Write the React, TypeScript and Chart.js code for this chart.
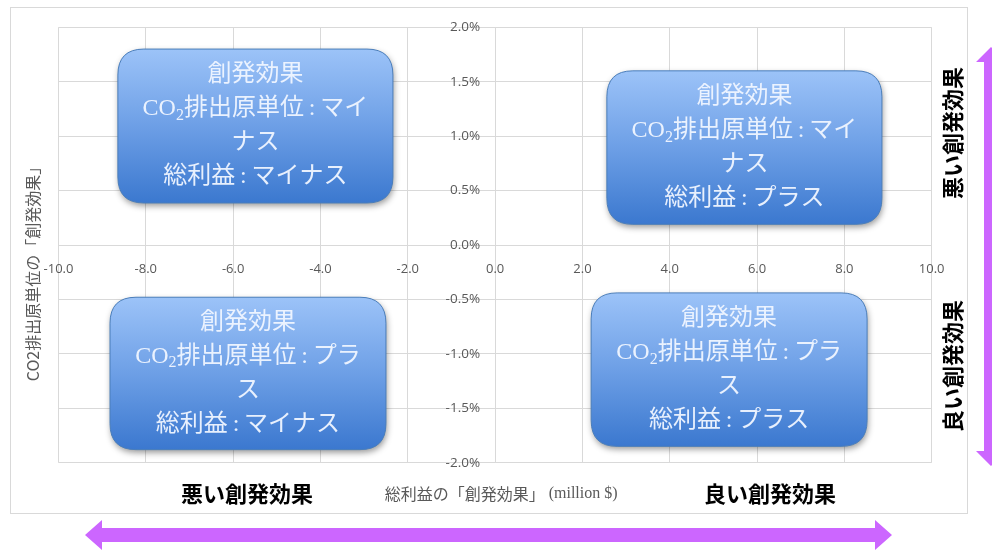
import React, { useEffect, useRef } from 'react';
import { Chart, registerables } from 'chart.js';

Chart.register(...registerables);

// ---- axis ranges / ticks ----
const X_MIN = -10;
const X_MAX = 10;
const X_STEP = 2;
const Y_MIN = -0.02;
const Y_MAX = 0.02;
const Y_STEP = 0.005;

// ---- texts ----
const xAxisTitleJa = '総利益の「創発効果」';
const xAxisTitleUnit = ' (million $)';
const yAxisTitle = 'CO2排出原単位の「創発効果」';
const bottomLabels = ['悪い創発効果', '良い創発効果'];
const sideLabels = ['悪い創発効果', '良い創発効果'];

const quadrantLines = [
  ['創発効果', 'CO₂排出原単位:マイ', 'ナス', '総利益:マイナス'],
  ['創発効果', 'CO₂排出原単位:マイ', 'ナス', '総利益:プラス'],
  ['創発効果', 'CO₂排出原単位:プラ', 'ス', '総利益:マイナス'],
  ['創発効果', 'CO₂排出原単位:プラ', 'ス', '総利益:プラス'],
];
// quadrant box extents in data units
const quadrantX0 = [-8.64, 2.56, -8.82, 2.2];
const quadrantX1 = [-2.34, 8.86, -2.5, 8.52];
const quadrantYTop = [0.018, 0.016, -0.0048, -0.0044];
const quadrantYBottom = [0.00386, 0.0019, -0.0188, -0.0185];

const GRID = '#d9d9d9';
const GRAY = '#595959';
const PURPLE = '#cc66ff';
const JA_SANS = '"Noto Sans CJK JP", "Noto Sans", sans-serif';
const BOX_FONT = '"Liberation Serif", "Noto Sans CJK JP", serif';
const TICK_FONT_FAMILY = '"Open Sans", "Liberation Sans", sans-serif';

const fmtX = (v: number) => Number(v).toFixed(1);
const fmtY = (v: number) => (Number(v) * 100).toFixed(1) + '%';

function roundRectPath(ctx: CanvasRenderingContext2D, x: number, y: number, w: number, h: number, r: number) {
  ctx.beginPath();
  ctx.moveTo(x + r, y);
  ctx.lineTo(x + w - r, y);
  ctx.quadraticCurveTo(x + w, y, x + w, y + r);
  ctx.lineTo(x + w, y + h - r);
  ctx.quadraticCurveTo(x + w, y + h, x + w - r, y + h);
  ctx.lineTo(x + r, y + h);
  ctx.quadraticCurveTo(x, y + h, x, y + h - r);
  ctx.lineTo(x, y + r);
  ctx.quadraticCurveTo(x, y, x + r, y);
  ctx.closePath();
}

function drawRichLine(ctx: CanvasRenderingContext2D, text: string, cx: number, cy: number, size: number) {
  const parts: { t: string; sub: boolean }[] = [];
  let buf = '';
  for (const ch of text) {
    if (ch === '₂') {
      if (buf) parts.push({ t: buf, sub: false });
      buf = '';
      parts.push({ t: '2', sub: true });
    } else if (ch === ':') {
      if (buf) parts.push({ t: buf, sub: false });
      buf = '';
      parts.push({ t: '\u2009:\u2009', sub: false });
    } else buf += ch;
  }
  if (buf) parts.push({ t: buf, sub: false });
  const fMain = `${size}px ${BOX_FONT}`;
  const fSub = `${Math.round(size * 0.68)}px ${BOX_FONT}`;
  let total = 0;
  const widths = parts.map((p) => {
    ctx.font = p.sub ? fSub : fMain;
    const w = ctx.measureText(p.t).width;
    total += w;
    return w;
  });
  let x = cx - total / 2;
  ctx.textAlign = 'left';
  ctx.textBaseline = 'middle';
  parts.forEach((p, i) => {
    ctx.font = p.sub ? fSub : fMain;
    ctx.fillText(p.t, x, p.sub ? cy + size * 0.28 : cy);
    x += widths[i];
  });
}

function hArrow(ctx: CanvasRenderingContext2D, x0: number, x1: number, y: number, shaft: number, head: number, headLen: number) {
  ctx.beginPath();
  ctx.moveTo(x0, y);
  ctx.lineTo(x0 + headLen, y - head);
  ctx.lineTo(x0 + headLen, y - shaft);
  ctx.lineTo(x1 - headLen, y - shaft);
  ctx.lineTo(x1 - headLen, y - head);
  ctx.lineTo(x1, y);
  ctx.lineTo(x1 - headLen, y + head);
  ctx.lineTo(x1 - headLen, y + shaft);
  ctx.lineTo(x0 + headLen, y + shaft);
  ctx.lineTo(x0 + headLen, y + head);
  ctx.closePath();
  ctx.fill();
}

function vArrow(ctx: CanvasRenderingContext2D, x: number, y0: number, y1: number, shaft: number, head: number, headLen: number) {
  ctx.beginPath();
  ctx.moveTo(x, y0);
  ctx.lineTo(x + head, y0 + headLen);
  ctx.lineTo(x + shaft, y0 + headLen);
  ctx.lineTo(x + shaft, y1 - headLen);
  ctx.lineTo(x + head, y1 - headLen);
  ctx.lineTo(x, y1);
  ctx.lineTo(x - head, y1 - headLen);
  ctx.lineTo(x - shaft, y1 - headLen);
  ctx.lineTo(x - shaft, y0 + headLen);
  ctx.lineTo(x - head, y0 + headLen);
  ctx.closePath();
  ctx.fill();
}

const decor = {
  id: 'decor',
  beforeDraw(chart: any) {
    const ctx: CanvasRenderingContext2D = chart.ctx;
    ctx.save();
    ctx.fillStyle = '#ffffff';
    ctx.fillRect(0, 0, chart.width, chart.height);
    ctx.strokeStyle = GRID;
    ctx.lineWidth = 1;
    ctx.strokeRect(10.5, 7.5, 957, 506);
    ctx.restore();
  },
  afterDraw(chart: any) {
    const ctx: CanvasRenderingContext2D = chart.ctx;
    const xs = chart.scales.x;
    const ys = chart.scales.y;
    const area = chart.chartArea;
    ctx.save();

    // y tick labels, left of the vertical zero axis
    const zeroX = xs.getPixelForValue(0);
    ctx.fillStyle = GRAY;
    ctx.font = `13.5px ${TICK_FONT_FAMILY}`;
    ctx.textAlign = 'right';
    ctx.textBaseline = 'middle';
    ys.ticks.forEach((t: any) => {
      ctx.fillText(fmtY(t.value), zeroX - 15, ys.getPixelForValue(t.value));
    });

    // quadrant boxes
    quadrantLines.forEach((lines, i) => {
      const x0 = xs.getPixelForValue(quadrantX0[i]);
      const x1 = xs.getPixelForValue(quadrantX1[i]);
      const y0 = ys.getPixelForValue(quadrantYTop[i]);
      const y1 = ys.getPixelForValue(quadrantYBottom[i]);
      const w = x1 - x0;
      const h = y1 - y0;
      ctx.save();
      ctx.shadowColor = 'rgba(0,0,0,0.4)';
      ctx.shadowBlur = 6;
      ctx.shadowOffsetX = 1;
      ctx.shadowOffsetY = 3;
      const g = ctx.createLinearGradient(0, y0, 0, y1);
      g.addColorStop(0, '#9cc3f8');
      g.addColorStop(0.5, '#6d9fe6');
      g.addColorStop(1, '#3b78cf');
      ctx.fillStyle = g;
      roundRectPath(ctx, x0, y0, w, h, 26);
      ctx.fill();
      ctx.restore();
      ctx.strokeStyle = '#4a7ebb';
      ctx.lineWidth = 1;
      roundRectPath(ctx, x0, y0, w, h, 26);
      ctx.stroke();
      ctx.fillStyle = 'rgba(240,246,255,0.95)';
      const cy = (y0 + y1) / 2;
      const step = 34;
      lines.forEach((ln, k) => {
        drawRichLine(ctx, ln, (x0 + x1) / 2, cy + (k - 1.5) * step, 24);
      });
    });

    // axis titles
    ctx.fillStyle = GRAY;
    ctx.textBaseline = 'middle';
    ctx.font = `16px ${JA_SANS}`;
    const jaW = ctx.measureText(xAxisTitleJa).width;
    ctx.font = `16px "Liberation Serif", serif`;
    const unitW = ctx.measureText(xAxisTitleUnit).width;
    const tx = (area.left + area.right) / 2 + 6 - (jaW + unitW) / 2;
    ctx.textAlign = 'left';
    ctx.font = `16px ${JA_SANS}`;
    ctx.fillText(xAxisTitleJa, tx, 494);
    ctx.font = `16px "Liberation Serif", serif`;
    ctx.fillText(xAxisTitleUnit, tx + jaW, 494);

    ctx.save();
    ctx.translate(33, 270);
    ctx.rotate(-Math.PI / 2);
    ctx.textAlign = 'center';
    ctx.font = `16px ${JA_SANS}`;
    ctx.fillText(yAxisTitle, 0, 0);
    ctx.restore();

    // bold bottom labels
    ctx.fillStyle = '#000000';
    ctx.font = `bold 22px ${JA_SANS}`;
    ctx.textAlign = 'center';
    ctx.fillText(bottomLabels[0], 247, 494);
    ctx.fillText(bottomLabels[1], 770, 494);

    // side labels
    [133, 366].forEach((cy, i) => {
      ctx.save();
      ctx.translate(953, cy);
      ctx.rotate(-Math.PI / 2);
      ctx.textAlign = 'center';
      ctx.fillText(sideLabels[i], 0, 0);
      ctx.restore();
    });

    // arrows
    ctx.fillStyle = PURPLE;
    hArrow(ctx, 85, 892, 535, 7, 15, 17);
    vArrow(ctx, 991, 47, 466, 7, 15, 15);

    ctx.restore();
  },
};

export default function App() {
  const ref = useRef<HTMLCanvasElement>(null);
  useEffect(() => {
    const tickFont = { family: TICK_FONT_FAMILY, size: 13 };
    const chart = new Chart(ref.current as HTMLCanvasElement, {
      type: 'scatter',
      data: { datasets: [] },
      options: {
        animation: false,
        responsive: false,
        layout: { padding: { left: 58.5, right: 60.3, top: 27.3, bottom: 88.3 } },
        plugins: { legend: { display: false }, tooltip: { enabled: false } },
        scales: {
          x: {
            type: 'linear',
            min: X_MIN,
            max: X_MAX,
            position: { y: 0 } as any,
            ticks: {
              stepSize: X_STEP,
              color: GRAY,
              font: tickFont,
              padding: 16,
              callback: (v: any) => fmtX(v),
            },
            grid: { color: GRID, drawTicks: false },
            border: { display: false },
          },
          y: {
            type: 'linear',
            min: Y_MIN,
            max: Y_MAX,
            position: { x: 0 } as any,
            ticks: {
              stepSize: Y_STEP,
              display: false,
              callback: (v: any) => fmtY(v),
            },
            grid: { color: GRID, drawTicks: false },
            border: { display: false },
          },
        },
      } as any,
      plugins: [decor],
    });
    return () => chart.destroy();
  }, []);
  return (
    <div style={{ position: 'fixed', left: 0, top: 0, width: 992, height: 551, background: '#fff' }}>
      <canvas ref={ref} width={992} height={551} style={{ display: 'block', width: 992, height: 551 }} />
    </div>
  );
}
